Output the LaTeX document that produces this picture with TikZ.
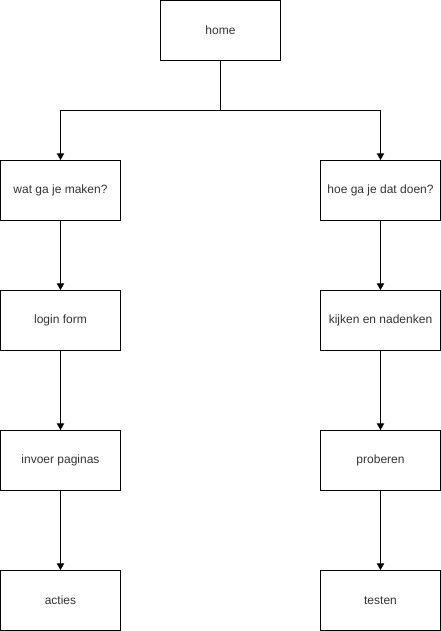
\documentclass[tikz,border=0pt]{standalone}
\usepackage{fontspec}
\setmainfont{Liberation Sans}
\usetikzlibrary{arrows.meta}
\tikzset{
  box/.style = {draw, line width=0.75pt, minimum width=90pt, minimum height=45pt,
    inner sep=0pt, font=\fontsize{9}{11}\selectfont, text=black!80},
  link/.style = {line width=0.75pt, -{Triangle[length=5pt,width=5.5pt]}}
}
\begin{document}
\begin{tikzpicture}[x=0.75pt, y=-0.75pt]
  \useasboundingbox (0,0) rectangle (441,631);
  \node[box] (home) at (220.5, 30.5) {home};
  \node[box] (wat) at (60.5, 190.5) {wat ga je maken?};
  \node[box] (hoe) at (380.5, 190.5) {hoe ga je dat doen?};
  \node[box] (login) at (60.5, 320.5) {login form};
  \node[box] (kijken) at (380.5, 320.5) {kijken en nadenken};
  \node[box] (invoer) at (60.5, 460.5) {invoer paginas};
  \node[box] (proberen) at (380.5, 460.5) {proberen};
  \node[box] (acties) at (60.5, 600.5) {acties};
  \node[box] (testen) at (380.5, 600.5) {testen};
  \coordinate (split) at (220.5, 110.5);
  \draw[link] (home) -- (split) -| (wat);
  \draw[link] (home) -- (split) -| (hoe);
  \draw[link] (wat) -- (login);
  \draw[link] (login) -- (invoer);
  \draw[link] (invoer) -- (acties);
  \draw[link] (hoe) -- (kijken);
  \draw[link] (kijken) -- (proberen);
  \draw[link] (proberen) -- (testen);
\end{tikzpicture}
\end{document}
